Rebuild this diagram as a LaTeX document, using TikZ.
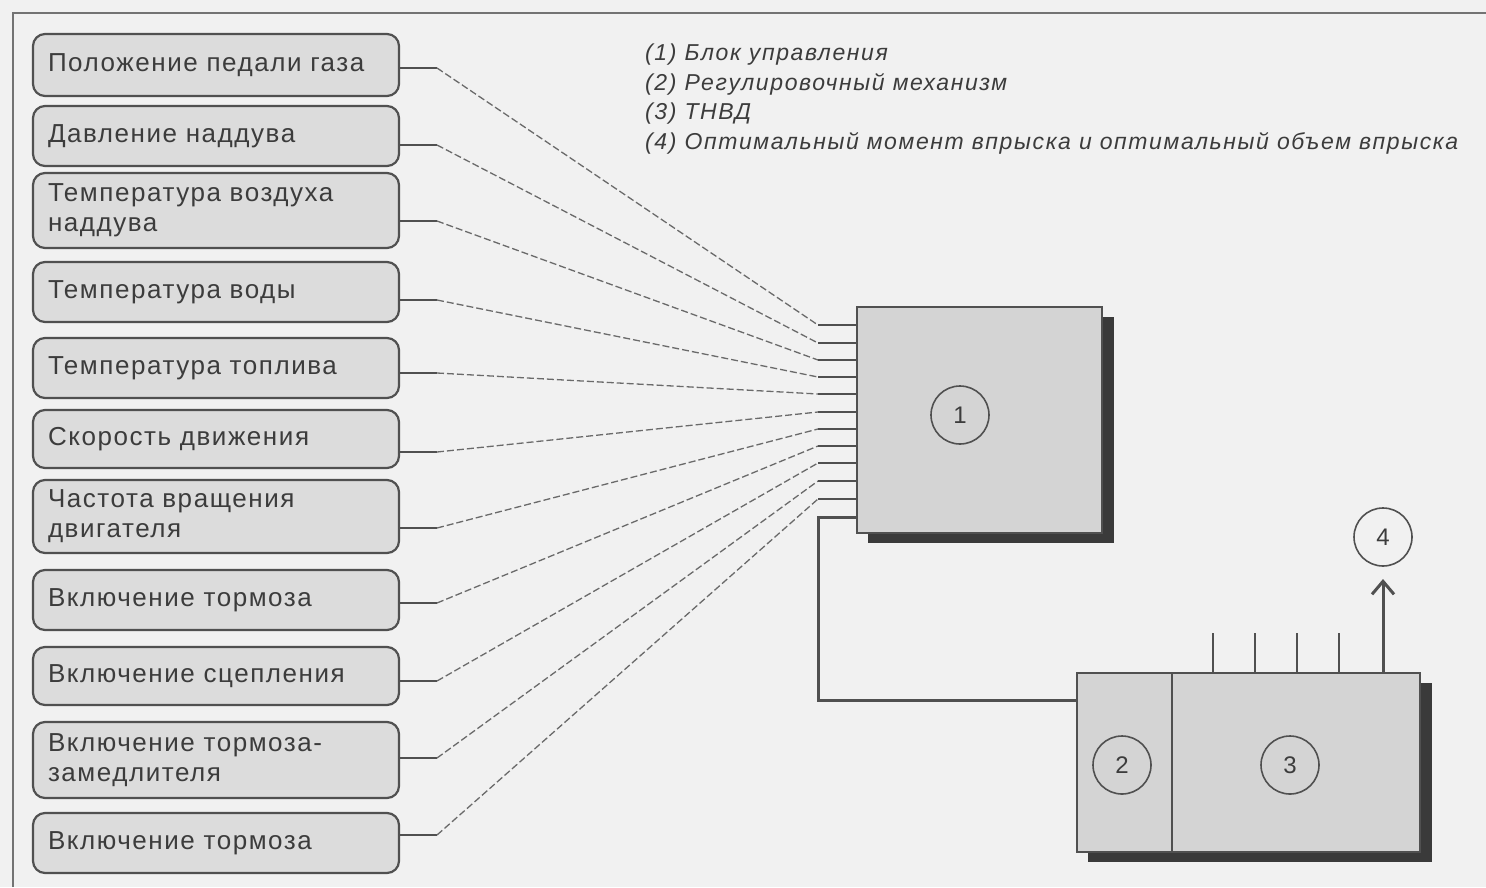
\documentclass[tikz,border=0pt]{standalone}
\usepackage{fontspec}
\setmainfont{Liberation Sans}
\newfontfamily\lblfont{Liberation Sans}[LetterSpace=6]
\newfontfamily\legfont{Liberation Sans}[LetterSpace=7]
\usetikzlibrary{arrows.meta}
\definecolor{bgcol}{HTML}{F1F1F1}
\definecolor{linecol}{HTML}{505050}
\definecolor{boxfill}{HTML}{DCDCDC}
\definecolor{unitfill}{HTML}{D4D4D4}
\definecolor{shadowcol}{HTML}{3A3A3A}
\definecolor{txtcol}{HTML}{3C3C3C}
\begin{document}
\begin{tikzpicture}[x=1pt,y=-1pt,
  sensor/.style={draw=linecol, line width=2.2pt, fill=boxfill, rounded corners=12pt,
    text width=336pt, inner xsep=15pt, inner ysep=0pt, align=left, text=txtcol,
    font=\lblfont\fontsize{26}{30}\selectfont},
  wire/.style={draw=linecol, line width=2pt},
  dwire/.style={draw=linecol!85, line width=1.3pt, dash pattern=on 7pt off 3pt},
  unit/.style={draw=linecol, line width=2.5pt, fill=unitfill, inner sep=0pt},
  num/.style={draw=linecol, line width=1.6pt, circle, minimum size=58pt, inner sep=0pt,
    text=txtcol, font=\fontsize{24}{24}\selectfont},
  legend/.style={anchor=base west, text=txtcol, inner sep=0pt,
    font=\legfont\fontsize{23}{28}\selectfont\itshape}
]
\useasboundingbox (0,0) rectangle (1486,887);
\fill[bgcol] (0,0) rectangle (1486,887);
% page frame
\draw[linecol!80, line width=2pt] (13,887) -- (13,13) -- (1486,13);

% legend
\node[legend] (l1) at (645,60) {(1) Блок управления};
\node[legend] (l2) at (645,90) {(2) Регулировочный механизм};
\node[legend] (l3) at (645,119) {(3) ТНВД};
\node[legend] (l4) at (645,149) {(4) Оптимальный момент впрыска и оптимальный объем впрыска};

% sensor boxes
\node[sensor, minimum height=62pt] (s1) at (216,65) {Положение педали газа};
\node[sensor, minimum height=60pt] (s2) at (216,136) {Давление наддува};
\node[sensor, minimum height=75pt] (s3) at (216,210.5) {Температура воздуха\\наддува};
\node[sensor, minimum height=60pt] (s4) at (216,292) {Температура воды};
\node[sensor, minimum height=60pt] (s5) at (216,368) {Температура топлива};
\node[sensor, minimum height=58pt] (s6) at (216,439) {Скорость движения};
\node[sensor, minimum height=73pt] (s7) at (216,516.5) {Частота вращения\\двигателя};
\node[sensor, minimum height=60pt] (s8) at (216,600) {Включение тормоза};
\node[sensor, minimum height=58pt] (s9) at (216,676) {Включение сцепления};
\node[sensor, minimum height=76pt] (s10) at (216,760) {Включение тормоза-\\замедлителя};
\node[sensor, minimum height=60pt] (s11) at (216,843) {Включение тормоза};

% control unit (1)
\fill[shadowcol] (868,317) rectangle (1114,543);
\node[unit, minimum width=245pt, minimum height=226pt] (cu) at (979.5,420) {};
\node[num] (n1) at (960,415) {1};

% regulating mechanism (2) and pump (3)
\fill[shadowcol] (1088,683) rectangle (1432,862);
\node[unit, minimum width=95pt, minimum height=179pt] (rm) at (1124.5,762.5) {};
\node[unit, minimum width=248pt, minimum height=179pt] (hp) at (1296,762.5) {};
\node[num] (n2) at (1122,765) {2};
\node[num] (n3) at (1290,765) {3};
\node[num] (n4) at (1383,537) {4};

% stubs near sensors and control unit
\foreach \i/\ya/\yb in {1/68/325, 2/145/343, 3/221/360, 4/300/377, 5/373/394, 6/452/412,
                        7/528/429, 8/603/446, 9/681/463, 10/758/481, 11/835/499}{
  \coordinate (p\i) at (437,\ya);
  \coordinate (q\i) at (818,\yb);
  \draw[wire] (s\i.east |- p\i) -- (p\i);
  \draw[dwire] (p\i) -- (q\i);
  \draw[wire] (q\i) -- (cu.west |- q\i);
}

% control line from unit to regulating mechanism
\coordinate (w1) at (818,517);
\coordinate (w2) at (818,700);
\draw[wire, line width=3pt] (cu.west |- w1) -- (w1) -- (w2) -- (rm.west |- w2);

% pump outlets
\foreach \x [count=\k] in {1213,1255,1297,1339}{
  \coordinate (o\k) at (\x,633);
  \draw[wire, line width=2.5pt] (hp.north -| o\k) -- (o\k);
}
\coordinate (tip) at (1383,579);
\draw[wire, line width=3pt, -{Straight Barb[length=13pt,width=22pt,line width=3pt]}]
  (hp.north -| n4) -- (tip);
\end{tikzpicture}
\end{document}
